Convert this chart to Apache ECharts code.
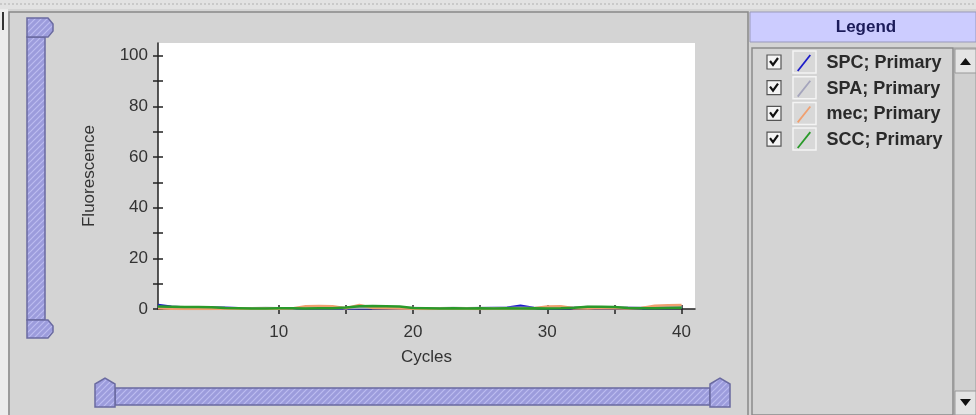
<!DOCTYPE html>
<html>
<head>
<meta charset="utf-8">
<style>
  html, body { margin: 0; padding: 0; background: #d4d4d4; }
  #chart { width: 976px; height: 415px; }
</style>
<script src="https://cdn.jsdelivr.net/npm/echarts@6/dist/echarts.min.js"></script>
</head>
<body>
<div id="chart"></div>
<script>
// 数据
var cycles = [1,2,3,4,5,6,7,8,9,10,11,12,13,14,15,16,17,18,19,20,21,22,23,24,25,26,27,28,29,30,31,32,33,34,35,36,37,38,39,40];
var spc = [1.6,0.9,0.6,0.6,0.6,0.5,0.3,0.2,0.2,0.2,0.2,0.3,0.3,0.4,0.2,0.3,0.4,0.3,0.2,0.2,0.2,0.3,0.2,0.3,0.3,0.4,0.5,1.3,0.4,0.2,0.3,0.4,0.4,0.3,0.3,0.4,0.3,0.4,0.4,0.5];
var spa = [0.8,0.6,0.5,0.4,0.5,0.4,0.3,0.3,0.4,0.3,0.3,0.4,0.5,0.4,0.4,0.5,0.6,0.5,0.4,0.4,0.3,0.3,0.4,0.3,0.4,0.3,0.4,0.5,0.4,0.5,0.6,0.5,0.8,0.7,0.6,0.5,0.5,0.6,0.7,0.8];
var mec = [0.3,0.1,0.0,0.1,0.0,0.1,0.2,0.1,0.2,0.1,0.2,1.1,1.2,1.1,0.3,1.6,0.4,0.3,0.2,0.1,0.0,0.1,0.2,0.1,0.0,0.1,0.2,0.1,0.3,1.0,1.1,0.3,0.2,0.4,0.3,0.2,0.4,1.3,1.5,1.6];
var scc = [1.0,0.9,0.8,0.8,0.7,0.4,0.3,0.2,0.2,0.3,0.3,0.2,0.3,0.3,0.6,1.1,1.2,1.1,1.0,0.4,0.3,0.2,0.3,0.2,0.3,0.2,0.3,0.2,0.3,0.2,0.3,0.5,0.9,0.9,0.8,0.4,0.3,0.3,0.4,0.5];
var seriesNames = ['SPC; Primary', 'SPA; Primary', 'mec; Primary', 'SCC; Primary'];
var seriesColors = ['#1c1cc8', '#a4a4bc', '#f0a070', '#2a9a2a'];
var xTicks = [10, 15, 20, 25, 30, 35, 40];
var xLabels = [10, 20, 30, 40];
var yTicks = [0, 10, 20, 30, 40, 50, 60, 70, 80, 90, 100];
var yLabels = [0, 20, 40, 60, 80, 100];

// 滑块斜纹
var hatch = document.createElement('canvas');
hatch.width = 6; hatch.height = 6;
(function () {
    var c = hatch.getContext('2d');
    c.fillStyle = '#9c9cdc';
    c.fillRect(0, 0, 6, 6);
    c.strokeStyle = '#bcbcf0';
    c.lineWidth = 1.2;
    c.beginPath();
    c.moveTo(0, 6); c.lineTo(6, 0);
    c.moveTo(-3, 3); c.lineTo(3, -3);
    c.moveTo(3, 9); c.lineTo(9, 3);
    c.stroke();
})();
var hatchFill = { image: hatch, repeat: 'repeat' };
var sliderStroke = '#6a6aa0';

var font = 'Liberation Sans, Arial, sans-serif';
var myChart = echarts.init(document.getElementById('chart'));

var graphics = [
    // 顶部虚线条
    { type: 'rect', shape: { x: 0, y: 0, width: 976, height: 9 }, style: { fill: '#e2e2e2' }, silent: true },
    { type: 'line', shape: { x1: 0, y1: 4, x2: 976, y2: 4 }, style: { stroke: '#b0b0b0', lineWidth: 1, lineDash: [2, 2] }, silent: true },
    // 左边条
    { type: 'rect', shape: { x: 0, y: 9, width: 8, height: 406 }, style: { fill: '#ececec' }, silent: true },
    { type: 'line', shape: { x1: 3, y1: 12, x2: 3, y2: 30 }, style: { stroke: '#333', lineWidth: 2 }, silent: true },
    // 图表面板边框
    { type: 'polyline', shape: { points: [[9, 415], [9, 12], [748, 12], [748, 415]] }, style: { stroke: '#888', fill: null, lineWidth: 1.5 }, silent: true },
    // 竖向滑块
    { type: 'rect', shape: { x: 27, y: 37, width: 18, height: 283 }, style: { fill: hatchFill, stroke: sliderStroke, lineWidth: 1.5 }, silent: true },
    { type: 'polygon', shape: { points: [[27, 18], [48, 18], [53, 24], [53, 31], [48, 37], [27, 37]] }, style: { fill: hatchFill, stroke: sliderStroke, lineWidth: 1.5 }, silent: true },
    { type: 'polygon', shape: { points: [[27, 320], [48, 320], [53, 326], [53, 332], [48, 338], [27, 338]] }, style: { fill: hatchFill, stroke: sliderStroke, lineWidth: 1.5 }, silent: true },
    // 横向滑块
    { type: 'rect', shape: { x: 115, y: 388, width: 595, height: 17 }, style: { fill: hatchFill, stroke: sliderStroke, lineWidth: 1.5 }, silent: true },
    { type: 'polygon', shape: { points: [[95, 407], [95, 384], [105, 378], [115, 384], [115, 407]] }, style: { fill: hatchFill, stroke: sliderStroke, lineWidth: 1.5 }, silent: true },
    { type: 'polygon', shape: { points: [[710, 407], [710, 384], [720, 378], [730, 384], [730, 407]] }, style: { fill: hatchFill, stroke: sliderStroke, lineWidth: 1.5 }, silent: true },
    // 图例面板
    { type: 'rect', shape: { x: 750, y: 12, width: 226, height: 30 }, style: { fill: '#ccccff', stroke: '#9999bb', lineWidth: 1 }, silent: true },
    { type: 'text', x: 866, y: 27, style: { text: 'Legend', font: 'bold 17px ' + font, fill: '#1c1c5a', align: 'center', verticalAlign: 'middle' }, silent: true },
    { type: 'rect', shape: { x: 752, y: 48, width: 201, height: 367 }, style: { fill: '#d4d4d4', stroke: '#8a8a8a', lineWidth: 1.5 }, silent: true },
    // 滚动条
    { type: 'rect', shape: { x: 954, y: 48, width: 22, height: 367 }, style: { fill: '#d0d0d0', stroke: '#999', lineWidth: 1 }, silent: true },
    { type: 'rect', shape: { x: 955, y: 49, width: 21, height: 24 }, style: { fill: '#e4e4e4', stroke: '#999', lineWidth: 1 }, silent: true },
    { type: 'polygon', shape: { points: [[960, 65], [971, 65], [965.5, 58]] }, style: { fill: '#111' }, silent: true },
    { type: 'rect', shape: { x: 955, y: 391, width: 21, height: 24 }, style: { fill: '#e4e4e4', stroke: '#999', lineWidth: 1 }, silent: true },
    { type: 'polygon', shape: { points: [[960, 399], [971, 399], [965.5, 406]] }, style: { fill: '#111' }, silent: true }
];
// 图例复选框与色块框
seriesNames.forEach(function (n, i) {
    var cy = 62 + i * 25.7;
    graphics.push(
        { type: 'rect', shape: { x: 767, y: cy - 7, width: 14, height: 14 }, style: { fill: '#f4f4f4', stroke: '#555', lineWidth: 1.2 }, silent: true },
        { type: 'polyline', shape: { points: [[770, cy - 1], [773, cy + 3], [778, cy - 4]] }, style: { stroke: '#111', lineWidth: 2.2, fill: null }, silent: true },
        { type: 'rect', shape: { x: 793, y: cy - 11, width: 23, height: 22 }, style: { fill: '#d8d8d8', stroke: '#f4f4f4', lineWidth: 1.5 }, silent: true }
    );
});

var option = {
    backgroundColor: '#d4d4d4',
    animation: false,
    graphic: graphics,
    legend: {
        orient: 'vertical',
        left: 792,
        top: 49,
        itemWidth: 15,
        itemHeight: 17,
        itemGap: 7.7,
        icon: 'path://M0,17 L13.5,0 L15,1.2 L1.5,18.2 Z',
        selectedMode: false,
        data: seriesNames,
        textStyle: {
            fontFamily: font,
            fontWeight: 'bold',
            fontSize: 18,
            color: '#2a2a2a',
            padding: [0, 0, 0, 10]
        }
    },
    grid: {
        left: 158,
        top: 43,
        width: 537,
        height: 266,
        show: true,
        backgroundColor: '#ffffff',
        borderWidth: 0
    },
    xAxis: [{
        type: 'value',
        min: 1,
        max: 41,
        name: 'Cycles',
        nameLocation: 'middle',
        nameGap: 40,
        nameTextStyle: { fontFamily: font, fontSize: 17, color: '#333' },
        axisLine: { onZero: false, lineStyle: { color: '#222', width: 1.5 } },
        axisTick: { show: true, length: 5, customValues: xTicks, lineStyle: { color: '#222', width: 1.5 } },
        axisLabel: { customValues: xLabels, margin: 15, fontFamily: font, fontSize: 17, color: '#333' },
        splitLine: { show: false }
    }, {
        type: 'value',
        min: 1,
        max: 41,
        position: 'bottom',
        axisLine: { show: false },
        axisTick: { show: true, inside: true, length: 4, customValues: xTicks, lineStyle: { color: '#222', width: 1.5 } },
        axisLabel: { show: false },
        splitLine: { show: false }
    }],
    yAxis: [{
        type: 'value',
        min: 0,
        max: 105,
        name: 'Fluorescence',
        nameLocation: 'middle',
        nameGap: 60,
        nameTextStyle: { fontFamily: font, fontSize: 17, color: '#333' },
        axisLine: { show: true, onZero: false, lineStyle: { color: '#222', width: 1.5 } },
        axisTick: { show: true, length: 5, customValues: yTicks, lineStyle: { color: '#222', width: 1.5 } },
        axisLabel: { customValues: yLabels, margin: 10, fontFamily: font, fontSize: 17, color: '#333' },
        splitLine: { show: false }
    }, {
        type: 'value',
        min: 0,
        max: 105,
        position: 'left',
        axisLine: { show: false },
        axisTick: { show: true, inside: true, length: 5, customValues: yTicks, lineStyle: { color: '#222', width: 1.5 } },
        axisLabel: { show: false },
        splitLine: { show: false }
    }],
    series: [spc, spa, mec, scc].map(function (vals, i) {
        return {
            name: seriesNames[i],
            type: 'line',
            data: cycles.map(function (c, k) { return [c, vals[k]]; }),
            symbol: 'none',
            color: seriesColors[i],
            lineStyle: { width: 2.5, color: seriesColors[i] },
            z: 3
        };
    })
};

myChart.setOption(option);
</script>
</body>
</html>
